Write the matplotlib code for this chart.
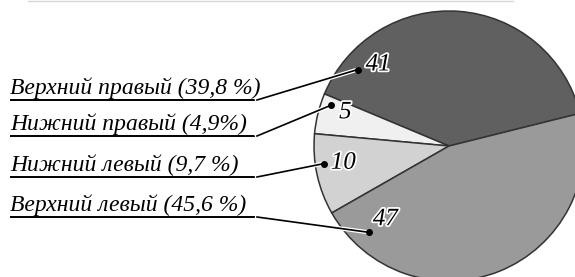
import numpy as np
import matplotlib.pyplot as plt
import matplotlib.patheffects as pe

# slice data (in drawing order, counterclockwise from the right)
values = [41, 5, 10, 47]
names = ["Верхний правый (39,8 %)", "Нижний правый (4,9%)",
         "Нижний левый (9,7 %)", "Верхний левый (45,6 %)"]
colors = ["#606060", "#f0f0f0", "#d2d2d2", "#9a9a9a"]

# layout (pixel-ish coordinates, y up)
W, H = 575, 277
cx, cy, R = 449, 131, 135
start = 14
dot_pos = [(140, 119), (161, 125), (188, 126), (227, 118)]     # angle, radius
num_pos = [(131, 108), (162, 109), (189, 107), (229, 97)]
line_y = [100, 136, 177, 217]     # underline rows from top

fig = plt.figure(figsize=(W / 100, H / 100), dpi=100)
ax = fig.add_axes([0, 0, 1, 1])

ax.pie(values, colors=colors, startangle=start, counterclock=True,
       center=(cx, cy), radius=R, frame=True,
       wedgeprops=dict(edgecolor="#333333", linewidth=1.1))
ax.set_xlim(0, W)
ax.set_ylim(0, H)
ax.set_aspect("equal")
ax.set_axis_off()

# faint frame line at the top
ax.plot([28, 513], [H - 0.5, H - 0.5], color="#d8d8d8", lw=1)

outline = [pe.Stroke(linewidth=3, foreground="white"), pe.Normal()]
for i, name in enumerate(names):
    ly = H - line_y[i]
    a, r = np.radians(dot_pos[i][0]), dot_pos[i][1]
    dx, dy = cx + r * np.cos(a), cy + r * np.sin(a)
    ax.plot([10, 257], [ly, ly], color="black", lw=1.4, solid_capstyle="butt")
    ax.plot([257, dx], [ly, dy], color="black", lw=1.2, path_effects=outline)
    ax.plot(dx, dy, "o", color="black", ms=4)
    ax.text(10, ly + 6, name, family="Liberation Serif", style="italic",
            fontsize=17, va="baseline", ha="left")
    a2, r2 = np.radians(num_pos[i][0]), num_pos[i][1]
    t = ax.text(cx + r2 * np.cos(a2), cy + r2 * np.sin(a2), str(values[i]),
                family="Liberation Serif", style="italic", fontsize=18,
                ha="center", va="center")
    t.set_path_effects([pe.Stroke(linewidth=2.5, foreground="white"), pe.Normal()])

fig.savefig("out.png", dpi=100)
